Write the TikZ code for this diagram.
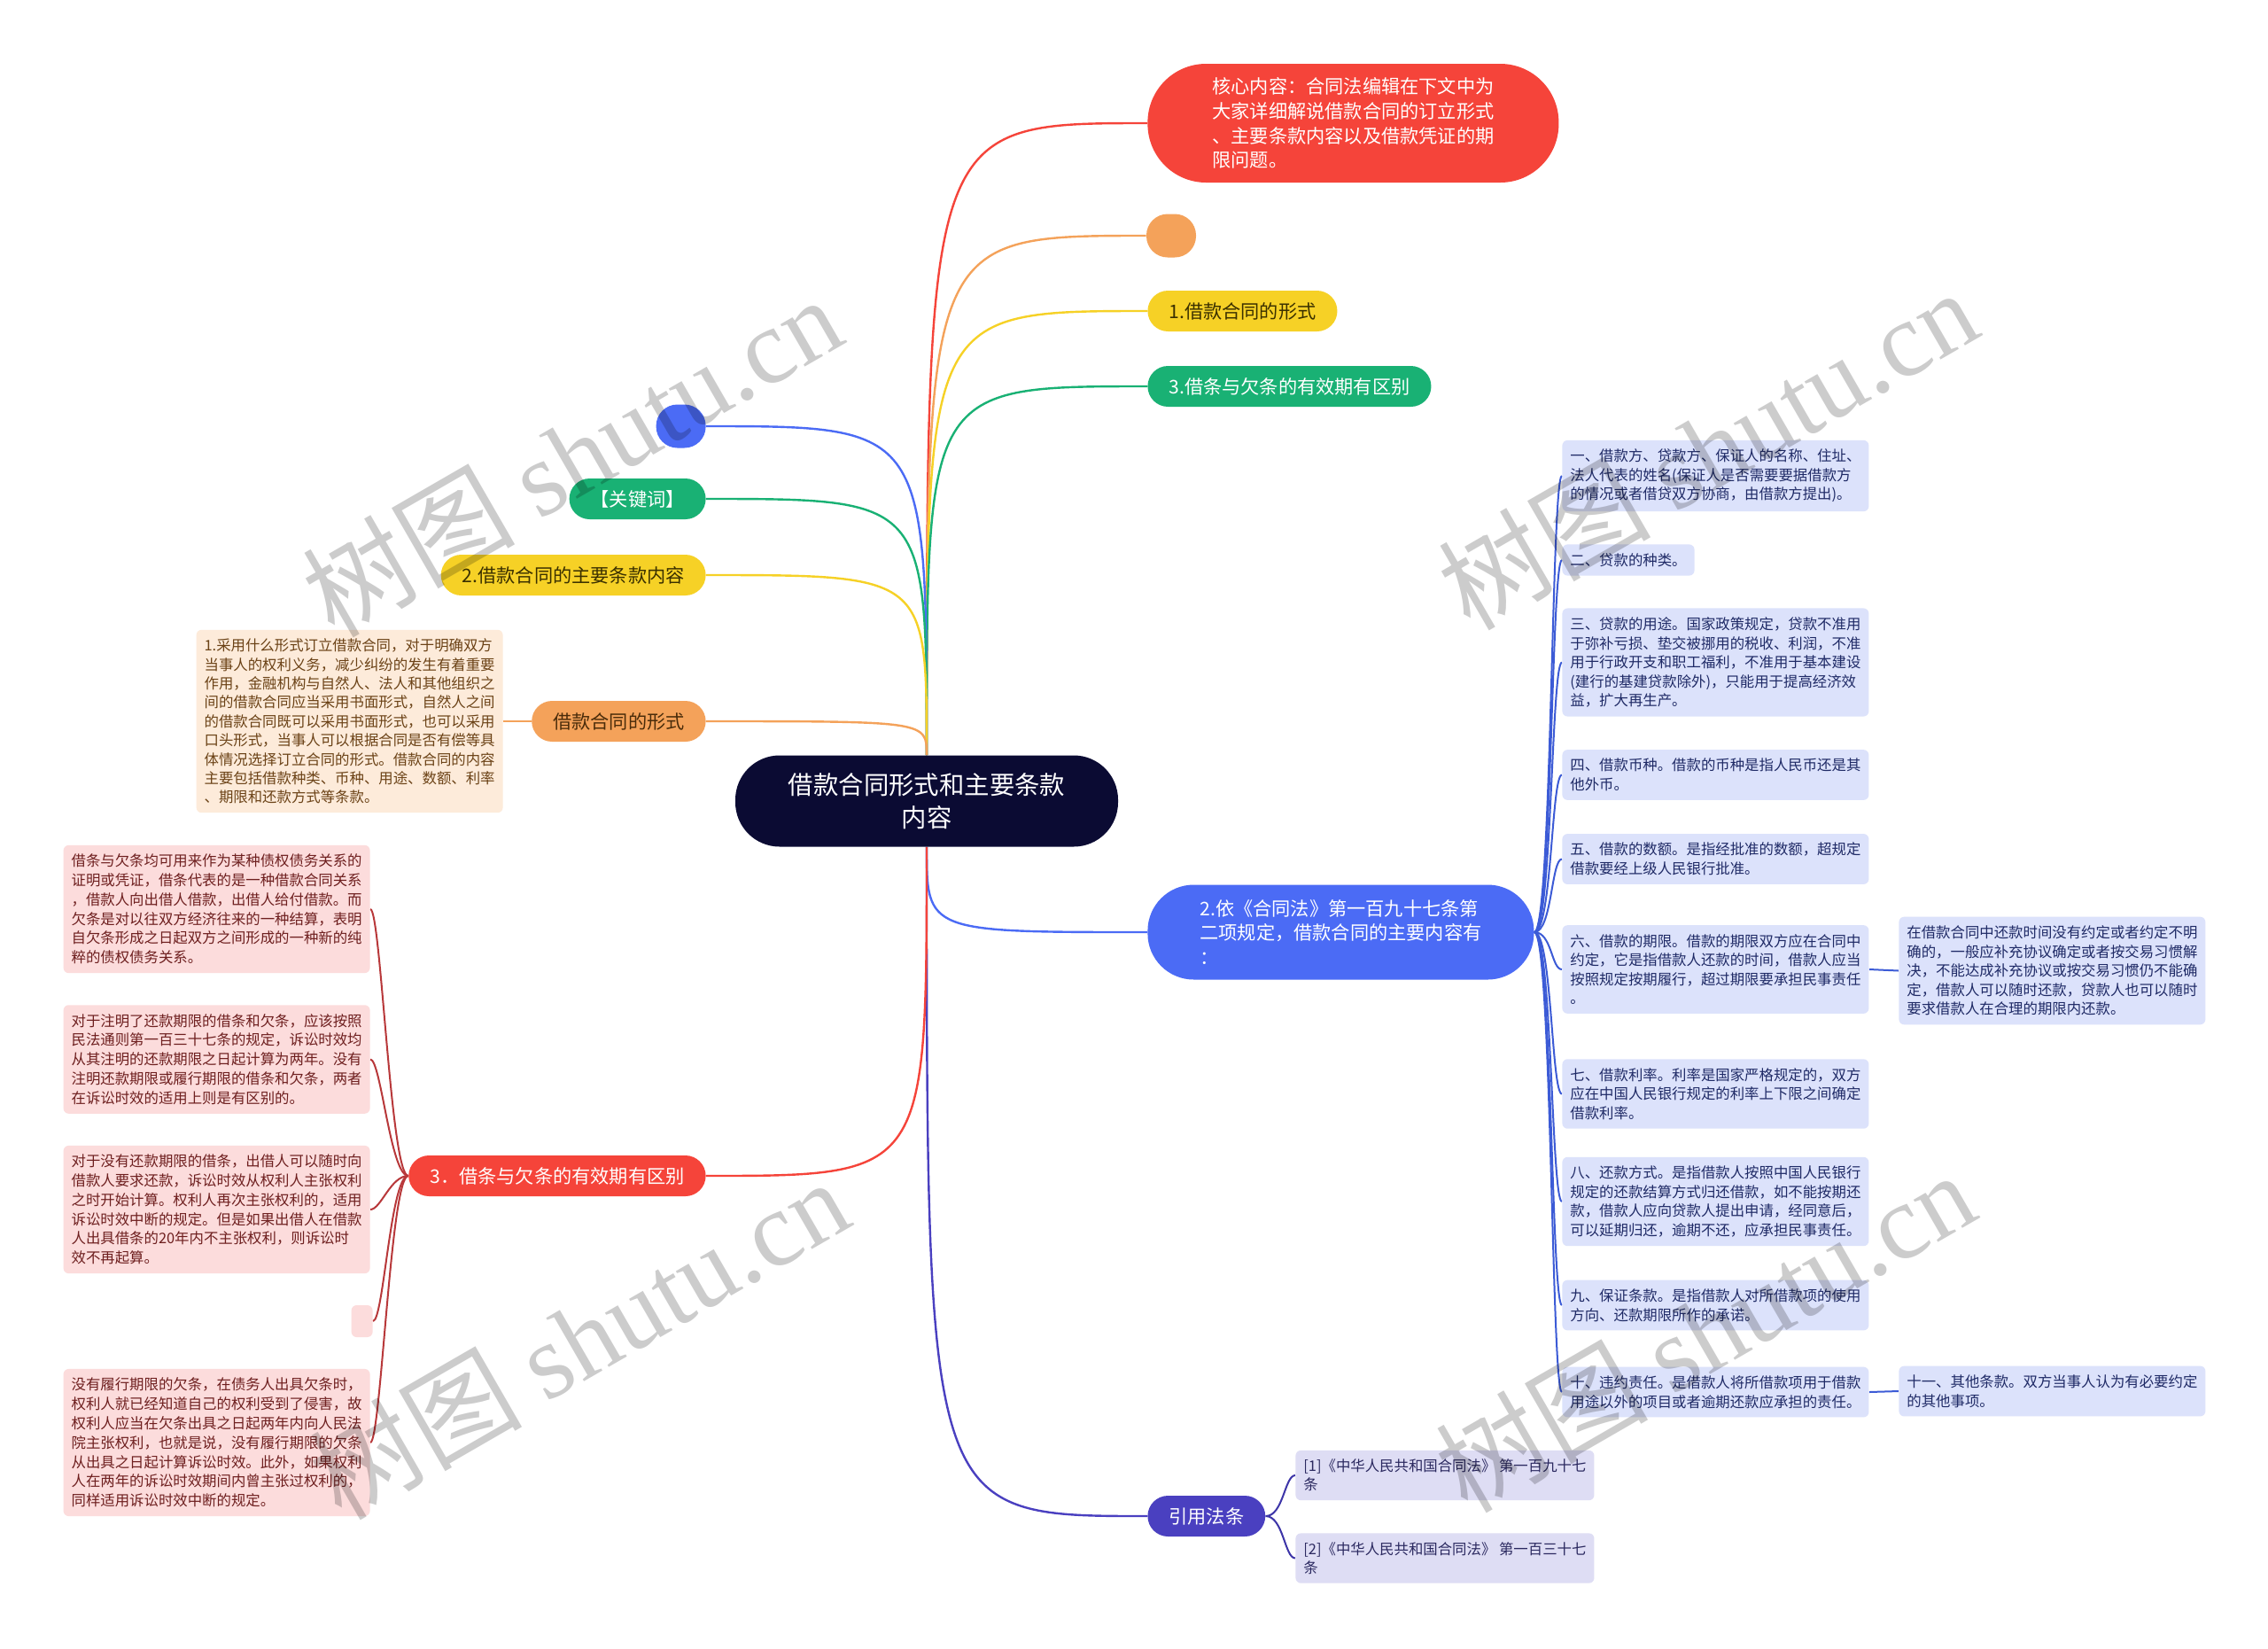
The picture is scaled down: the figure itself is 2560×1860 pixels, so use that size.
\documentclass[tikz,border=0pt]{standalone}
\usepackage{fontspec}
\setmainfont{Noto Sans CJK SC}
\newfontfamily\wmserif{Liberation Serif}
\usetikzlibrary{backgrounds}

\definecolor{navy}{HTML}{0B0B33}
\definecolor{mmred}{HTML}{F5443A}
\definecolor{mmorange}{HTML}{F4A25A}
\definecolor{mmyellow}{HTML}{F6D126}
\definecolor{mmgreen}{HTML}{19B174}
\definecolor{mmblue}{HTML}{4B6BF5}
\definecolor{mmindigo}{HTML}{4A40C0}
\definecolor{linepink}{HTML}{B8383A}
\definecolor{lineblue}{HTML}{3C5BD6}
\definecolor{lineindigo}{HTML}{3D35A8}
\definecolor{leafblue}{HTML}{DCE2FB}
\definecolor{leafbluetext}{HTML}{1F2A66}
\definecolor{leafpink}{HTML}{FCDCDC}
\definecolor{leafpinktext}{HTML}{6E1F1F}
\definecolor{leaforange}{HTML}{FDEBDA}
\definecolor{leaforangetext}{HTML}{6B4216}
\definecolor{leafindigo}{HTML}{DEDDF4}
\definecolor{leafindigotext}{HTML}{2B2960}
\definecolor{yellowtext}{HTML}{3A3000}
\definecolor{orangetext}{HTML}{4A2C0A}

\tikzset{
  pill/.style={rounded corners=11.5pt, minimum height=23pt, inner xsep=12pt, inner ysep=0pt,
    font=\fontsize{10.6}{13.9}\selectfont},
  blob/.style={rounded corners=12pt, minimum width=28pt, minimum height=24.5pt, inner sep=0pt},
  leaf/.style={rounded corners=3pt, align=left, inner xsep=4.5pt, inner ysep=5pt},
  leafR/.style={leaf, fill=leafblue, text=leafbluetext, anchor=west, font=\fontsize{8.2}{10.8}\selectfont},
  leafP/.style={leaf, fill=leafpink, text=leafpinktext, anchor=east, font=\fontsize{8.2}{10.9}\selectfont},
  leafO/.style={leaf, fill=leaforange, text=leaforangetext, anchor=east, font=\fontsize{8.2}{10.7}\selectfont},
  leafI/.style={leaf, fill=leafindigo, text=leafindigotext, anchor=west, font=\fontsize{8.2}{10.6}\selectfont},
  branch/.style={line width=1.2pt},
  twig/.style={line width=1pt},
  watermark/.style={rotate=30, text=black, text opacity=0.2, font=\fontsize{60}{60}\selectfont}
}

\begin{document}
\begin{tikzpicture}[x=0.5pt, y=-0.5pt]
  \useasboundingbox (0,0) rectangle (2560,1860);

  % root
  \node[fill=navy, text=white, rounded corners=25pt, minimum width=216pt, minimum height=51.5pt,
    align=center, font=\fontsize{14.2}{18.8}\selectfont] (root) at (1046,904) {借款合同形式和主要条款\\内容};

  % right side
  \node[pill, fill=mmred, text=white, anchor=west, rounded corners=33pt, minimum width=232pt,
    minimum height=67pt, align=left] (core) at (1295,139)
    {核心内容：合同法编辑在下文中为\\大家详细解说借款合同的订立形式\\、主要条款内容以及借款凭证的期\\限问题。};
  \node[blob, fill=mmorange] (blobR) at (1322,266) {};
  \node[pill, fill=mmyellow, text=yellowtext, anchor=west] (formR) at (1295,351) {1.借款合同的形式};
  \node[pill, fill=mmgreen, text=white, anchor=west] (termR) at (1295,436) {3.借条与欠条的有效期有区别};
  \node[pill, fill=mmblue, text=white, anchor=west, rounded corners=26pt, minimum width=218pt,
    minimum height=53.5pt, align=left] (clause) at (1295,1052)
    {2.依《合同法》第一百九十七条第\\二项规定，借款合同的主要内容有\\：};
  \node[pill, fill=mmindigo, text=white, anchor=west] (law) at (1295,1711) {引用法条};

  % left side
  \node[blob, fill=mmblue, anchor=east] (blobL) at (797,481) {};
  \node[pill, fill=mmgreen, text=white, anchor=east] (keyw) at (797,563) {【关键词】};
  \node[pill, fill=mmyellow, text=yellowtext, anchor=east] (mainL) at (797,649) {2.借款合同的主要条款内容};
  \node[pill, fill=mmorange, text=orangetext, anchor=east] (formL) at (797,814) {借款合同的形式};
  \node[pill, fill=mmred, text=white, anchor=east] (noteL) at (797,1327) {3．借条与欠条的有效期有区别};

  % clauses
  \node[leafR] (c1) at (1763,537) {一、借款方、贷款方、保证人的名称、住址、\\法人代表的姓名(保证人是否需要要据借款方\\的情况或者借贷双方协商，由借款方提出)。};
  \node[leafR] (c2) at (1763,632) {二、贷款的种类。};
  \node[leafR] (c3) at (1763,747.5) {三、贷款的用途。国家政策规定，贷款不准用\\于弥补亏损、垫交被挪用的税收、利润，不准\\用于行政开支和职工福利，不准用于基本建设\\(建行的基建贷款除外)，只能用于提高经济效\\益，扩大再生产。};
  \node[leafR] (c4) at (1763,874.5) {四、借款币种。借款的币种是指人民币还是其\\他外币。};
  \node[leafR] (c5) at (1763,969.5) {五、借款的数额。是指经批准的数额，超规定\\借款要经上级人民银行批准。};
  \node[leafR] (c6) at (1763,1094) {六、借款的期限。借款的期限双方应在合同中\\约定，它是指借款人还款的时间，借款人应当\\按照规定按期履行，超过期限要承担民事责任\\。};
  \node[leafR] (c6a) at (2143,1095.5) {在借款合同中还款时间没有约定或者约定不明\\确的，一般应补充协议确定或者按交易习惯解\\决，不能达成补充协议或按交易习惯仍不能确\\定，借款人可以随时还款，贷款人也可以随时\\要求借款人在合理的期限内还款。};
  \node[leafR] (c7) at (1763,1234.5) {七、借款利率。利率是国家严格规定的，双方\\应在中国人民银行规定的利率上下限之间确定\\借款利率。};
  \node[leafR] (c8) at (1763,1356) {八、还款方式。是指借款人按照中国人民银行\\规定的还款结算方式归还借款，如不能按期还\\款，借款人应向贷款人提出申请，经同意后，\\可以延期归还，逾期不还，应承担民事责任。};
  \node[leafR] (c9) at (1763,1473) {九、保证条款。是指借款人对所借款项的使用\\方向、还款期限所作的承诺。};
  \node[leafR] (c10) at (1763,1571) {十、违约责任。是借款人将所借款项用于借款\\用途以外的项目或者逾期还款应承担的责任。};
  \node[leafR] (c10a) at (2143,1570) {十一、其他条款。双方当事人认为有必要约定\\的其他事项。};

  % law refs
  \node[leafI] (l1) at (1462,1665) {[1]《中华人民共和国合同法》 第一百九十七\\条};
  \node[leafI] (l2) at (1462,1758.5) {[2]《中华人民共和国合同法》 第一百三十七\\条};

  % form detail
  \node[leafO] (f1) at (568,814) {1.采用什么形式订立借款合同，对于明确双方\\当事人的权利义务，减少纠纷的发生有着重要\\作用，金融机构与自然人、法人和其他组织之\\间的借款合同应当采用书面形式，自然人之间\\的借款合同既可以采用书面形式，也可以采用\\口头形式，当事人可以根据合同是否有偿等具\\体情况选择订立合同的形式。借款合同的内容\\主要包括借款种类、币种、用途、数额、利率\\、期限和还款方式等条款。};

  % notes
  \node[leafP] (p1) at (418,1026) {借条与欠条均可用来作为某种债权债务关系的\\证明或凭证，借条代表的是一种借款合同关系\\，借款人向出借人借款，出借人给付借款。而\\欠条是对以往双方经济往来的一种结算，表明\\自欠条形成之日起双方之间形成的一种新的纯\\粹的债权债务关系。};
  \node[leafP] (p2) at (418,1195.5) {对于注明了还款期限的借条和欠条，应该按照\\民法通则第一百三十七条的规定，诉讼时效均\\从其注明的还款期限之日起计算为两年。没有\\注明还款期限或履行期限的借条和欠条，两者\\在诉讼时效的适用上则是有区别的。};
  \node[leafP] (p3) at (418,1365) {对于没有还款期限的借条，出借人可以随时向\\借款人要求还款，诉讼时效从权利人主张权利\\之时开始计算。权利人再次主张权利的，适用\\诉讼时效中断的规定。但是如果出借人在借款\\人出具借条的20年内不主张权利，则诉讼时\\效不再起算。};
  \node[leafP, minimum width=12pt, minimum height=18pt, inner sep=0pt] (p4) at (421,1491) {};
  \node[leafP] (p5) at (418,1628) {没有履行期限的欠条，在债务人出具欠条时，\\权利人就已经知道自己的权利受到了侵害，故\\权利人应当在欠条出具之日起两年内向人民法\\院主张权利，也就是说，没有履行期限的欠条\\从出具之日起计算诉讼时效。此外，如果权利\\人在两年的诉讼时效期间内曾主张过权利的，\\同样适用诉讼时效中断的规定。};

  \begin{scope}[on background layer]
    \fill[white] (0,0) rectangle (2560,1860);
    % main branches
    \draw[branch, mmred] (root.north) .. controls (root.north |- core.west) .. (core.west);
    \draw[branch, mmorange] (root.north) .. controls (root.north |- blobR.west) .. (blobR.west);
    \draw[branch, mmyellow] (root.north) .. controls (root.north |- formR.west) .. (formR.west);
    \draw[branch, mmgreen] (root.north) .. controls (root.north |- termR.west) .. (termR.west);
    \draw[branch, mmblue] (root.north) .. controls (root.north |- blobL.east) .. (blobL.east);
    \draw[branch, mmgreen] (root.north) .. controls (root.north |- keyw.east) .. (keyw.east);
    \draw[branch, mmyellow] (root.north) .. controls (root.north |- mainL.east) .. (mainL.east);
    \draw[branch, mmorange] (root.north) .. controls (root.north |- formL.east) .. (formL.east);
    \draw[branch, mmblue] (root.south) .. controls (root.south |- clause.west) .. (clause.west);
    \draw[branch, mmindigo] (root.south) .. controls (root.south |- law.west) .. (law.west);
    \draw[branch, mmred] (root.south) .. controls (root.south |- noteL.east) .. (noteL.east);
    % sub branches
    \foreach \c in {c1,c2,c3,c4,c5,c6,c7,c8,c9,c10}
      \draw[twig, lineblue] (clause.east) .. controls +(20,0) and +(-12,0) .. (\c.west);
    \draw[twig, lineblue] (c6.east) -- (c6a.west);
    \draw[twig, lineblue] (c10.east) -- (c10a.west);
    \foreach \c in {l1,l2}
      \draw[twig, lineindigo] (law.east) .. controls +(20,0) and +(-12,0) .. (\c.west);
    \draw[twig, mmorange] (formL.west) -- (f1.east);
    \foreach \c in {p1,p2,p3,p4,p5}
      \draw[twig, linepink] (noteL.west) .. controls +(-20,0) and +(12,0) .. (\c.east);
  \end{scope}

  % watermark
  \foreach \wx/\wy [count=\i] in {645/514, 1927/506, 653/1510, 1924/1502}
    \node[watermark] (wm\i) at (\wx,\wy) {树图 {\wmserif shutu.cn}};
\end{tikzpicture}
\end{document}
